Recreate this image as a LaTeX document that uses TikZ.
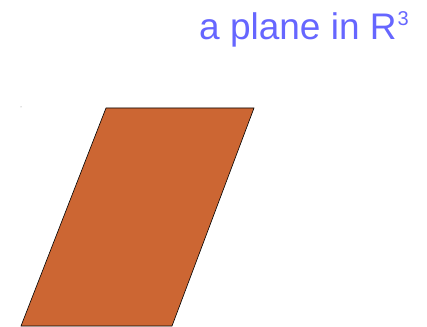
\documentclass[tikz,border=0pt]{standalone}
\usepackage{fontspec}
\setmainfont{Liberation Sans}
\usepackage{xcolor}
\definecolor{titleblue}{HTML}{6666FF}
\definecolor{planebrown}{HTML}{CC6633}
\begin{document}
\begin{tikzpicture}[x=1pt, y=1pt]
    \useasboundingbox (0,0) rectangle (427,326);

    % Titolo
    \node[anchor=base west, inner sep=0pt, text=titleblue, font=\fontsize{37}{40}\selectfont] (title) at (199,286) {a plane in R\raisebox{14pt}{\fontsize{20}{20}\selectfont\kern1pt 3}};

    % Piano
    \filldraw[fill=planebrown, draw=black, line width=0.6pt] (106,218) -- (254,218) -- (172,0) -- (21,0) -- cycle;
    \fill[gray] (21,219) circle (0.5);
\end{tikzpicture}
\end{document}
